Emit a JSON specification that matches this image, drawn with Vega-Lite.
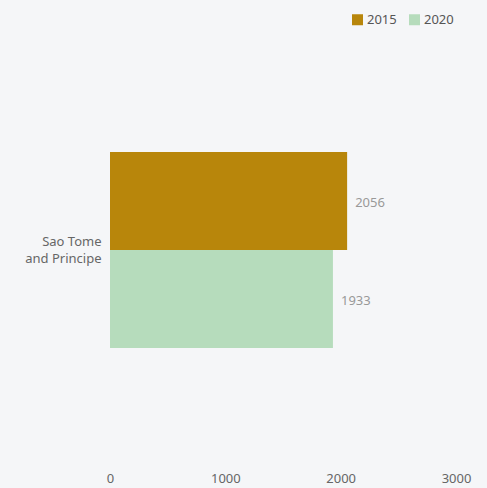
{
  "$schema": "https://vega.github.io/schema/vega-lite/v6.json",
  "width": 346,
  "height": 420,
  "autosize": {"type": "none"},
  "padding": {"left": 110, "top": 40, "right": 31, "bottom": 28},
  "background": "#f5f6f8",
  "config": {
    "view": {"stroke": null},
    "font": "Noto Sans",
    "axis": {"labelFont": "Noto Sans", "labelColor": "#666666", "labelFontSize": 13, "grid": false, "domain": false, "ticks": false, "title": null},
    "legend": {"labelFont": "Noto Sans", "labelColor": "#555555", "labelFontSize": 13}
  },
  "data": {
    "values": [
      {"country": "Sao Tome and Principe", "year": "2015", "value": 2056},
      {"country": "Sao Tome and Principe", "year": "2020", "value": 1933}
    ]
  },
  "encoding": {
    "y": {
      "field": "country", "type": "nominal",
      "scale": {"paddingInner": 0, "paddingOuter": 0.571},
      "axis": {"labelPadding": 9, "labelOffset": -8, "labelExpr": "datum.label == 'Sao Tome and Principe' ? ['Sao Tome', 'and Principe'] : datum.label", "labelLineHeight": 17}
    },
    "yOffset": {"field": "year", "type": "nominal", "scale": {"paddingInner": 0, "paddingOuter": 0}},
    "x": {
      "field": "value", "type": "quantitative",
      "scale": {"domain": [0, 3000], "nice": false},
      "axis": {"values": [0, 1000, 2000, 3000], "format": "d", "labelPadding": 12, "labelFlush": false}
    }
  },
  "layer": [
    {
      "mark": {"type": "bar"},
      "encoding": {
        "color": {
          "field": "year", "type": "nominal",
          "scale": {"domain": ["2015", "2020"], "range": ["#b8860b", "#b6dcbc"]},
          "legend": {"title": null, "orient": "none", "direction": "horizontal", "legendX": 241, "legendY": -27, "symbolType": "square", "symbolSize": 121, "symbolStrokeWidth": 0, "symbolOpacity": 1, "columnPadding": 11, "labelOffset": 3}
        }
      }
    },
    {
      "mark": {"type": "text", "align": "left", "dx": 8, "dy": 2, "color": "#999999", "fontSize": 13, "font": "Noto Sans"},
      "encoding": {"text": {"field": "value", "type": "quantitative"}}
    }
  ]
}
